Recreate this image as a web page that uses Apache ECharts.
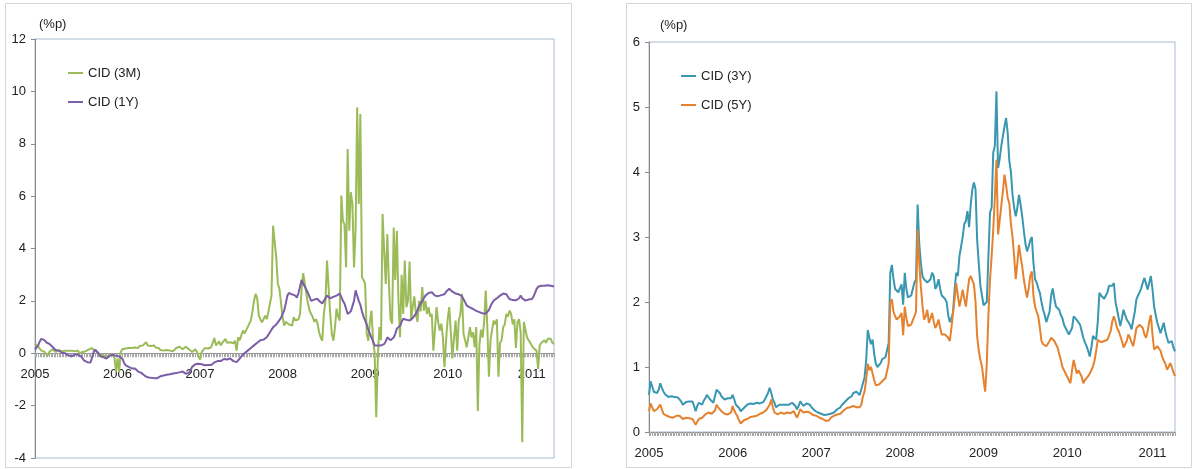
<!DOCTYPE html>
<html>
<head>
<meta charset="utf-8">
<script src="https://cdn.jsdelivr.net/npm/echarts@6/dist/echarts.min.js"></script>
<style>
  html, body { margin: 0; padding: 0; background: #ffffff; }
  #chart { width: 1193px; height: 469px; }
</style>
</head>
<body>
<div id="chart"></div>
<script>
// Weekly CID spreads (%p), first week ending 2005-01-07
const seriesNames = ['CID (3M)', 'CID (1Y)', 'CID (3Y)', 'CID (5Y)'];
const firstWeek = '2005-01-07';
const unitLabel = '(%p)';
const leftTicks = { min: -4, max: 12, step: 2 };
const rightTicks = { min: 0, max: 6, step: 1 };

const cid3m = [
  0.37, 0.3, 0.25, 0.2, 0.1, 0.15, 0.05, 0.1, -0.1, 0.05,
  0.1, 0.15, 0.1, 0.05, 0.1, 0.12, 0.1, 0.08, 0.12, 0.1,
  0.15, 0.1, 0.05, 0.1, 0.12, 0.08, 0.05, 0.1, 0.0, -0.05,
  0.05, 0.1, 0.08, 0.12, 0.15, 0.1, 0.2, 0.12, 0.08, 0.05,
  -0.05, -0.1, -0.15, -0.05, -0.1, -0.2, -0.1, -0.15, -0.05, -0.1,
  -0.15, -0.7, -0.2, -0.73, 0.05, 0.15, 0.12, 0.18, 0.15, 0.2,
  0.18, 0.2, 0.15, 0.22, 0.25, 0.2, 0.28, 0.25, 0.3, 0.35,
  0.42, 0.3, 0.35, 0.28, 0.25, 0.3, 0.22, 0.25, 0.2, 0.12,
  0.15, 0.1, 0.08, 0.12, 0.05, 0.1, 0.15, 0.08, 0.12, 0.2,
  0.15, 0.25, 0.2, 0.15, 0.2, 0.25, 0.18, 0.15, 0.1, 0.05,
  0.1, 0.15, 0.05, 0.0, -0.24, 0.04, 0.1, 0.2, 0.23, 0.18,
  0.2, 0.23, 0.25, 0.58, 0.3, 0.37, 0.45, 0.3, 0.4, 0.45,
  0.55, 0.4, 0.35, 0.42, 0.42, 0.38, 0.48, 0.1, 0.61, 0.5,
  0.55, 0.87, 0.75, 0.7, 1.0, 1.13, 1.25, 1.6, 2.0, 2.27,
  2.1, 1.44, 1.3, 1.18, 1.3, 1.44, 1.3, 1.57, 1.5, 2.2,
  4.87, 4.8, 3.66, 2.65, 2.47, 2.53, 1.38, 1.06, 1.2, 1.18,
  1.1, 1.15, 1.06, 1.38, 1.25, 1.3, 1.3, 1.5, 2.46, 3.06,
  2.65, 2.27, 1.9, 1.63, 1.5, 1.38, 1.2, 1.3, 1.13, 0.8,
  0.6, 0.48, 1.5, 2.0, 3.54, 2.5, 1.5, 0.74, 0.48, 1.0,
  1.7, 1.4, 1.25, 6.02, 5.07, 4.9, 3.28, 7.8, 4.68, 6.15,
  5.7, 3.28, 4.76, 9.39, 5.7, 9.14, 2.9, 2.8, 2.65, 0.74,
  0.48, 1.2, 1.63, 0.5, 0.0, -2.44, -0.2, 1.0, 0.5, 5.32,
  3.9, 2.65, 4.55, 2.65, 1.3, 1.13, 4.8, 2.8, 4.68, 2.0,
  0.61, 3.0, 1.5, 3.54, 1.76, 2.0, 3.5, 1.25, 1.8, 2.17,
  1.5, 1.2, 2.0, 1.6, 2.53, 1.63, 2.0, 1.5, 1.76, 1.4,
  1.5, 0.1, 0.9, 1.76, 1.2, 0.87, 1.13, 0.6, -0.53, 0.5,
  1.3, 1.76, 0.8, -0.2, 0.6, 1.25, 0.1, 1.25, 1.5, 2.27,
  0.74, 0.5, 0.23, 0.6, 1.0, 0.61, 0.8, 0.23, 1.0, -2.2,
  0.3, 0.9, 0.6, 1.2, 2.39, 1.0, -0.9, 0.5, 0.9, 1.25,
  1.1, 1.3, -0.9, 0.4, 0.5, 1.0, 1.1, 1.5, 1.4, 1.63,
  1.5, 1.1, 1.3, 0.2, 1.2, 1.3, 0.8, -3.4, 1.2, 0.9,
  0.6, 0.5, 0.4, 0.3, 0.2, 0.15, 0.1, -0.6, 0.3, 0.4,
  0.45, 0.5, 0.4, 0.55, 0.5, 0.55, 0.4, 0.35
];

const cid1y = [
  0.14, 0.2, 0.3, 0.45, 0.55, 0.61, 0.5, 0.42, 0.38, 0.36,
  0.3, 0.25, 0.2, 0.12, 0.08, 0.1, 0.05, 0.02, -0.02, 0.0,
  -0.05, -0.08, -0.1, -0.12, -0.1, -0.05, -0.08, -0.05, -0.05, -0.12,
  -0.2, -0.28, -0.32, -0.34, -0.3, -0.35, -0.15, 0.05, 0.14, 0.1,
  0.0, -0.1, -0.12, -0.15, -0.2, -0.2, -0.15, -0.1, -0.08, -0.05,
  -0.05, -0.1, -0.08, -0.12, -0.1, -0.2, -0.35, -0.45, -0.5, -0.52,
  -0.55, -0.58, -0.6, -0.58, -0.62, -0.7, -0.65, -0.75, -0.8, -0.85,
  -0.9, -0.92, -0.92, -0.94, -0.95, -0.95, -0.93, -0.95, -0.9, -0.88,
  -0.86, -0.85, -0.83, -0.82, -0.8, -0.8, -0.78, -0.77, -0.76, -0.75,
  -0.72, -0.73, -0.7, -0.7, -0.75, -0.78, -0.8, -0.75, -0.65, -0.52,
  -0.45, -0.42, -0.45, -0.4, -0.4, -0.42, -0.45, -0.46, -0.48, -0.45,
  -0.47, -0.45, -0.38, -0.35, -0.3, -0.3, -0.28, -0.3, -0.25, -0.22,
  -0.22, -0.24, -0.22, -0.2, -0.25, -0.3, -0.32, -0.34, -0.28, -0.2,
  -0.12, -0.05, 0.0, 0.04, 0.1, 0.15, 0.2, 0.25, 0.3, 0.37,
  0.4, 0.45, 0.5, 0.55, 0.52, 0.58, 0.61, 0.7, 0.8, 0.9,
  0.99, 1.05, 1.1, 1.18, 1.25, 1.35, 1.5, 1.63, 1.9, 2.2,
  2.3, 2.3, 2.25, 2.28, 2.2, 2.12, 2.3, 2.55, 2.8, 2.65,
  2.55, 2.5, 2.3, 2.15, 2.0, 2.0, 2.05, 2.1, 2.08, 2.0,
  1.95, 1.9, 2.0, 2.1, 2.2, 2.15, 2.1, 2.1, 2.15, 2.15,
  2.2, 2.25, 2.28, 2.15, 2.0, 1.9, 1.7, 1.5, 1.55, 1.6,
  1.63, 2.0, 2.4, 2.2, 2.0, 1.85, 1.6, 1.4, 1.25, 1.1,
  0.9, 0.75, 0.6, 0.45, 0.3, 0.23, 0.3, 0.36, 0.3, 0.23,
  0.35, 0.45, 0.61, 0.55, 0.5, 0.48, 0.6, 0.75, 0.94, 1.0,
  1.05, 1.2, 1.32, 1.3, 1.28, 1.3, 1.25, 1.3, 1.35, 1.38,
  1.5, 1.65, 1.8, 1.9, 2.0, 2.1, 2.2, 2.27, 2.3, 2.32,
  2.33, 2.28, 2.2, 2.14, 2.18, 2.2, 2.22, 2.2, 2.25, 2.35,
  2.42, 2.46, 2.4, 2.35, 2.3, 2.28, 2.27, 2.25, 2.2, 2.18,
  2.14, 1.95, 1.82, 1.78, 1.75, 1.72, 1.69, 1.65, 1.62, 1.6,
  1.57, 1.55, 1.52, 1.5, 1.52, 1.55, 1.65, 1.8, 1.92, 2.01,
  2.05, 2.1, 2.15, 2.2, 2.22, 2.28, 2.33, 2.25, 2.15, 2.07,
  2.05, 2.03, 2.05, 2.02, 2.01, 2.1, 2.2, 2.1, 2.05, 2.01,
  2.03, 2.05, 2.05, 2.07, 2.15, 2.3, 2.45, 2.54, 2.55, 2.58,
  2.56, 2.58, 2.6, 2.6, 2.6, 2.58, 2.6, 2.55
];

const cid3y = [
  0.57, 0.78, 0.7, 0.62, 0.6, 0.6, 0.65, 0.75, 0.68, 0.62,
  0.58, 0.55, 0.54, 0.52, 0.55, 0.52, 0.54, 0.57, 0.53, 0.52,
  0.47, 0.42, 0.44, 0.46, 0.45, 0.47, 0.46, 0.47, 0.4, 0.32,
  0.4, 0.45, 0.43, 0.42, 0.48, 0.52, 0.57, 0.55, 0.5, 0.48,
  0.45, 0.55, 0.65, 0.62, 0.6, 0.55, 0.52, 0.5, 0.48, 0.52,
  0.55, 0.52, 0.57, 0.5, 0.42, 0.4, 0.37, 0.32, 0.34, 0.37,
  0.4, 0.42, 0.42, 0.44, 0.45, 0.43, 0.45, 0.45, 0.43, 0.44,
  0.42, 0.46, 0.5, 0.52, 0.6, 0.68, 0.6, 0.5, 0.45, 0.38,
  0.38, 0.42, 0.45, 0.42, 0.4, 0.42, 0.44, 0.42, 0.43, 0.45,
  0.45, 0.4, 0.35, 0.4, 0.47, 0.45, 0.4, 0.42, 0.44, 0.42,
  0.42, 0.38, 0.35, 0.33, 0.32, 0.3, 0.3, 0.28, 0.27, 0.26,
  0.24, 0.27, 0.3, 0.28, 0.27, 0.3, 0.32, 0.35, 0.38, 0.38,
  0.42, 0.45, 0.47, 0.5, 0.52, 0.55, 0.55, 0.6, 0.62, 0.62,
  0.6, 0.57, 0.6, 0.75, 0.84, 1.1, 1.57, 1.45, 1.35, 1.42,
  1.2, 1.05, 1.0, 1.02, 1.06, 1.12, 1.14, 1.15, 1.12, 1.37,
  2.45, 2.57, 2.35, 2.2, 2.17, 2.15, 2.12, 2.27, 1.96, 2.45,
  2.2, 2.07, 2.05, 2.1, 2.2, 2.3, 2.35, 3.5, 2.9, 2.6,
  2.4, 2.35, 2.33, 2.3, 2.27, 2.35, 2.45, 2.4, 2.2, 2.25,
  2.35, 2.2, 2.1, 2.07, 2.05, 2.0, 1.8, 1.69, 1.75, 1.84,
  2.2, 2.45, 2.4, 2.71, 2.85, 3.0, 3.2, 3.25, 3.4, 3.15,
  3.5, 3.73, 3.84, 3.73, 2.95, 2.6, 2.25, 2.1, 1.95, 1.93,
  2.0, 2.7, 3.38, 3.45, 4.3, 4.4, 5.24, 4.06, 4.2, 4.4,
  4.55, 4.7, 4.83, 4.6, 4.17, 4.0, 3.65, 3.45, 3.32, 3.45,
  3.65, 3.5, 3.32, 3.1, 2.9, 2.78, 2.85, 2.95, 3.0, 2.6,
  2.35, 2.3, 2.21, 2.14, 2.0, 1.88, 1.8, 1.69, 1.7, 1.85,
  2.1, 2.21, 2.05, 1.93, 1.9, 1.88, 1.8, 1.75, 1.65, 1.6,
  1.55, 1.5, 1.48, 1.6, 1.78, 1.75, 1.72, 1.7, 1.65, 1.55,
  1.45, 1.38, 1.32, 1.25, 1.16, 1.3, 1.48, 1.45, 1.42, 1.7,
  2.14, 2.1, 2.07, 2.05, 2.04, 2.15, 2.25, 2.22, 2.25, 2.29,
  2.0, 1.88, 1.75, 1.63, 1.75, 1.88, 1.8, 1.73, 1.7, 1.65,
  1.58, 1.6, 1.85, 2.04, 2.1, 2.15, 2.21, 2.3, 2.37, 2.28,
  2.19, 2.3, 2.4, 2.2, 1.93, 1.8, 1.68, 1.6, 1.52, 1.6,
  1.68, 1.55, 1.45, 1.37, 1.4, 1.4, 1.3, 1.24
];

const cid5y = [
  0.32, 0.44, 0.38, 0.32, 0.33, 0.35, 0.38, 0.42, 0.35, 0.28,
  0.27, 0.25, 0.25, 0.23, 0.22, 0.22, 0.23, 0.25, 0.24, 0.25,
  0.22, 0.2, 0.21, 0.22, 0.22, 0.21, 0.2, 0.2, 0.16, 0.11,
  0.16, 0.2, 0.21, 0.22, 0.25, 0.27, 0.3, 0.3, 0.28, 0.28,
  0.28, 0.33, 0.42, 0.38, 0.35, 0.32, 0.3, 0.28, 0.28, 0.27,
  0.25, 0.3, 0.4, 0.33, 0.28, 0.24, 0.18, 0.13, 0.15, 0.18,
  0.19, 0.2, 0.22, 0.23, 0.22, 0.24, 0.25, 0.25, 0.26, 0.28,
  0.28, 0.3, 0.32, 0.34, 0.35, 0.42, 0.5, 0.38, 0.3, 0.28,
  0.27, 0.28, 0.3, 0.3, 0.28, 0.29, 0.3, 0.3, 0.29, 0.3,
  0.32, 0.3, 0.22, 0.28, 0.35, 0.33, 0.3, 0.3, 0.31, 0.3,
  0.3, 0.28, 0.26, 0.26, 0.25, 0.24, 0.22, 0.21, 0.2, 0.18,
  0.17, 0.15, 0.18, 0.22, 0.25, 0.25, 0.26, 0.27, 0.28, 0.28,
  0.3, 0.33, 0.35, 0.37, 0.38, 0.38, 0.4, 0.4, 0.42, 0.38,
  0.38, 0.38, 0.42, 0.55, 0.62, 0.8, 1.05, 0.95, 1.0, 0.9,
  0.8, 0.72, 0.7, 0.73, 0.76, 0.78, 0.8, 0.83, 0.85, 1.05,
  2.0, 2.04, 1.85, 1.78, 1.73, 1.73, 1.78, 1.83, 1.49, 1.93,
  1.75, 1.63, 1.6, 1.65, 1.72, 1.78, 1.85, 3.11, 2.6, 2.24,
  1.95, 1.73, 1.78, 1.88, 1.68, 1.75, 1.83, 1.7, 1.6, 1.65,
  1.73, 1.6, 1.5, 1.47, 1.5, 1.47, 1.45, 1.4, 1.6, 1.83,
  2.05, 2.29, 2.1, 1.93, 2.05, 2.19, 2.05, 1.93, 2.15, 2.35,
  2.4, 2.42, 2.27, 2.0, 1.47, 1.25, 1.11, 1.01, 0.8, 0.62,
  1.06, 1.8, 2.35, 2.7, 3.11, 3.6, 4.19, 3.04, 3.25, 3.48,
  3.7, 3.96, 3.8, 3.6, 3.52, 3.2, 3.0, 2.7, 2.35, 2.6,
  2.88, 2.7, 2.55, 2.35, 2.2, 2.07, 2.2, 2.4, 2.47, 2.1,
  1.93, 1.85, 1.78, 1.6, 1.4, 1.35, 1.33, 1.32, 1.35, 1.4,
  1.45, 1.42, 1.4, 1.37, 1.3, 1.2, 1.11, 1.0, 0.95, 0.9,
  0.85, 0.8, 0.75, 0.95, 1.11, 1.0, 0.9, 0.95, 0.98, 0.85,
  0.75, 0.8, 0.83, 0.86, 0.9, 0.95, 1.01, 1.1, 1.25, 1.42,
  1.4, 1.38, 1.37, 1.4, 1.42, 1.42, 1.45, 1.55, 1.7, 1.78,
  1.7, 1.6, 1.55, 1.52, 1.4, 1.3, 1.27, 1.4, 1.5, 1.45,
  1.38, 1.32, 1.45, 1.6, 1.62, 1.65, 1.68, 1.6, 1.5, 1.45,
  1.55, 1.7, 1.8, 1.5, 1.27, 1.3, 1.32, 1.32, 1.25, 1.16,
  1.1, 1.05, 0.96, 1.0, 1.06, 1.0, 0.92, 0.86
];

// Week-ending dates, one per observation
const weeks = [];
{
  const d0 = new Date(firstWeek + 'T00:00:00Z');
  for (let i = 0; i < cid3m.length; i++) {
    const d = new Date(d0.getTime() + i * 7 * 86400000);
    weeks.push(d.toISOString().slice(0, 10));
  }
}
const yearOf = (s) => s.slice(0, 4);
const isYearStart = (idx) => idx === 0 || yearOf(weeks[idx]) !== yearOf(weeks[idx - 1]);

const FONT = "'Liberation Sans', Arial, sans-serif";
const TXT = '#222222';
const BORDER = '#a9bcd0';
const AXIS = '#8a8a8a';
const colors = ['#9bbb59', '#7b5ea7', '#3a97b2', '#e5822f'];

// Plot boxes
const leftGrid = { left: 35, top: 39, width: 519, height: 419 };
const rightGrid = { left: 649, top: 42, width: 526, height: 390 };

// Distance from the bottom edge of a grid up to its y = 0 line
function zeroLift(g, t) {
  return g.height * (0 - t.min) / (t.max - t.min);
}

function makeX(gridIndex, lift) {
  return {
    type: 'category',
    gridIndex: gridIndex,
    data: weeks,
    boundaryGap: false,
    position: 'bottom',
    offset: -lift,
    axisLine: { show: true, onZero: false, lineStyle: { color: AXIS, width: 1 } },
    axisTick: { show: true, interval: 0, length: 4, lineStyle: { color: '#a8a8a8', width: 1 } },
    axisLabel: {
      interval: (idx) => isYearStart(idx),
      formatter: (v) => yearOf(v),
      fontSize: 13, fontFamily: FONT, color: TXT, margin: 15
    },
    splitLine: { show: false }
  };
}

function makeY(gridIndex, t) {
  return {
    type: 'value',
    gridIndex: gridIndex,
    min: t.min, max: t.max, interval: t.step,
    axisLine: { show: true, lineStyle: { color: AXIS, width: 1 } },
    axisTick: { show: true, length: 4, lineStyle: { color: AXIS } },
    axisLabel: { fontSize: 13, fontFamily: FONT, color: TXT, margin: 9 },
    splitLine: { show: false }
  };
}

function line(name, data, idx, color) {
  return {
    name: name, type: 'line', data: data,
    xAxisIndex: idx, yAxisIndex: idx,
    showSymbol: false, symbol: 'none',
    lineStyle: { color: color, width: 2 },
    itemStyle: { color: color },
    emphasis: { disabled: true }
  };
}

function legendFor(names, left, top) {
  return {
    data: names, orient: 'vertical', left: left, top: top,
    icon: 'rect', itemWidth: 15, itemHeight: 2, itemGap: 13,
    textStyle: { fontSize: 13, fontFamily: FONT, color: TXT, lineHeight: 16 },
    selectedMode: false
  };
}

const chart = echarts.init(document.getElementById('chart'), null, { renderer: 'canvas' });
chart.setOption({
  animation: false,
  backgroundColor: '#ffffff',
  grid: [
    Object.assign({ show: true, borderColor: BORDER, borderWidth: 1, backgroundColor: 'transparent' }, leftGrid),
    Object.assign({ show: true, borderColor: BORDER, borderWidth: 1, backgroundColor: 'transparent' }, rightGrid)
  ],
  xAxis: [makeX(0, zeroLift(leftGrid, leftTicks)), makeX(1, zeroLift(rightGrid, rightTicks))],
  yAxis: [makeY(0, leftTicks), makeY(1, rightTicks)],
  legend: [
    legendFor([seriesNames[0], seriesNames[1]], 63, 60),
    legendFor([seriesNames[2], seriesNames[3]], 676, 63)
  ],
  series: [
    line(seriesNames[0], cid3m, 0, colors[0]),
    line(seriesNames[1], cid1y, 0, colors[1]),
    line(seriesNames[2], cid3y, 1, colors[2]),
    line(seriesNames[3], cid5y, 1, colors[3])
  ],
  graphic: [
    { type: 'rect', silent: true, z: -1, shape: { x: 5.5, y: 3.5, width: 566, height: 464 }, style: { fill: 'none', stroke: '#d6d6d6', lineWidth: 1 } },
    { type: 'rect', silent: true, z: -1, shape: { x: 626.5, y: 3.5, width: 565, height: 464 }, style: { fill: 'none', stroke: '#d6d6d6', lineWidth: 1 } },
    { type: 'text', left: 39, top: 18, style: { text: unitLabel, font: '13px ' + FONT, fill: TXT } },
    { type: 'text', left: 660, top: 19, style: { text: unitLabel, font: '13px ' + FONT, fill: TXT } }
  ]
});
</script>
</body>
</html>
